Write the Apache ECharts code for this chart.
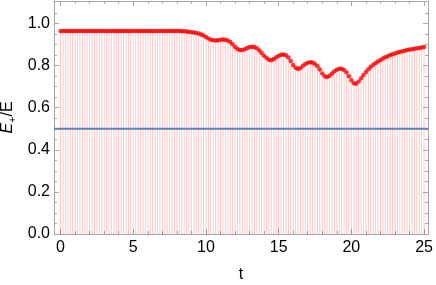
<!DOCTYPE html>
<html>
<head>
<meta charset="utf-8">
<script src="https://cdn.jsdelivr.net/npm/echarts@6/dist/echarts.min.js"></script>
<style>
html,body{margin:0;padding:0;background:#fff;}
#c{width:436px;height:285px;}
</style>
</head>
<body>
<div id="c"></div>
<script>
// ---- data ----
var tValues = [
0,0.17,0.33,0.5,0.67,0.83,1,1.17,1.33,1.5,1.67,1.83,2,2.17,2.33,2.5,2.67,2.83,
3,3.17,3.33,3.5,3.67,3.83,4,4.17,4.33,4.5,4.67,4.83,5,5.17,5.33,5.5,5.67,5.83,
6,6.17,6.33,6.5,6.67,6.83,7,7.17,7.33,7.5,7.67,7.83,8,8.17,8.33,8.5,8.67,8.83,
9,9.17,9.33,9.5,9.67,9.83,10,10.17,10.33,10.5,10.67,10.83,11,11.17,11.33,11.5,11.67,11.83,
12,12.17,12.33,12.5,12.67,12.83,13,13.17,13.33,13.5,13.67,13.83,14,14.17,14.33,14.5,14.67,14.83,
15,15.17,15.33,15.5,15.67,15.83,16,16.17,16.33,16.5,16.67,16.83,17,17.17,17.33,17.5,17.67,17.83,
18,18.17,18.33,18.5,18.67,18.83,19,19.17,19.33,19.5,19.67,19.83,20,20.17,20.33,20.5,20.67,20.83,
21,21.17,21.33,21.5,21.67,21.83,22,22.17,22.33,22.5,22.67,22.83,23,23.17,23.33,23.5,23.67,23.83,
24,24.17,24.33,24.5,24.67,24.83,25
];
var ratioValues = [
0.964,0.964,0.964,0.964,0.964,0.964,0.964,0.964,0.964,0.964,0.964,0.964,0.964,0.964,0.964,0.964,0.964,0.964,
0.964,0.964,0.964,0.964,0.964,0.964,0.964,0.964,0.964,0.964,0.964,0.964,0.964,0.964,0.964,0.964,0.964,0.964,
0.964,0.964,0.964,0.964,0.964,0.964,0.964,0.964,0.964,0.964,0.964,0.964,0.964,0.964,0.963,0.963,0.962,0.961,
0.959,0.957,0.955,0.952,0.948,0.943,0.936,0.929,0.923,0.920,0.919,0.921,0.923,0.924,0.923,0.919,0.912,0.902,
0.889,0.879,0.874,0.874,0.878,0.884,0.888,0.890,0.889,0.883,0.872,0.860,0.847,0.836,0.828,0.826,0.832,0.840,
0.847,0.852,0.853,0.849,0.838,0.822,0.803,0.790,0.784,0.789,0.799,0.808,0.814,0.816,0.815,0.808,0.797,0.781,
0.763,0.750,0.746,0.752,0.763,0.773,0.780,0.785,0.785,0.779,0.767,0.750,0.730,0.716,0.714,0.724,0.740,0.755,
0.770,0.783,0.795,0.804,0.812,0.820,0.827,0.834,0.840,0.845,0.850,0.854,0.858,0.862,0.865,0.868,0.871,0.874,
0.876,0.878,0.880,0.882,0.884,0.886,0.888
];
var referenceLevel = 0.5;
var xMajorTicks = [0,5,10,15,20,25];
var xMinorTicks = [1,2,3,4,6,7,8,9,11,12,13,14,16,17,18,19,21,22,23,24];
var yMajorTicks = [0,0.2,0.4,0.6,0.8,1.0];
var yMinorTicks = [0.05,0.1,0.15,0.25,0.3,0.35,0.45,0.5,0.55,0.65,0.7,0.75,0.85,0.9,0.95,1.05];
var xRange = [-0.45, 25.27];
var yRange = [0, 1.107];

// ---- chart ----
var frameColor = '#a6a6a6';
var font = 'Liberation Sans, Arial, sans-serif';
var points = tValues.map(function(t,i){return [t, ratioValues[i]];});
var refLine = [[xRange[0], referenceLevel],[xRange[1], referenceLevel]];

function xAx(pos, ticks, len, showLine, showLabel){
  return {
    type:'value', position:pos, offset:0, min:xRange[0], max:xRange[1],
    axisLine:{show:showLine, onZero:false, lineStyle:{color:frameColor,width:1}},
    axisTick:{show:true, inside:true, length:len, customValues:ticks, lineStyle:{color:frameColor,width:1}},
    axisLabel:{show:showLabel, customValues:ticks, color:'#000', fontSize:16, fontFamily:font, margin:6},
    splitLine:{show:false}
  };
}
function yAx(pos, ticks, len, showLine, showLabel){
  return {
    type:'value', position:pos, offset:0, min:yRange[0], max:yRange[1],
    axisLine:{show:showLine, onZero:false, lineStyle:{color:frameColor,width:1}},
    axisTick:{show:true, inside:true, length:len, customValues:ticks, lineStyle:{color:frameColor,width:1}},
    axisLabel:{show:showLabel, customValues:ticks, color:'#000', fontSize:16, fontFamily:font, margin:4,
      formatter:function(v){return v.toFixed(1);}},
    splitLine:{show:false}
  };
}

var xBottom = xAx('bottom', xMajorTicks, 5, true, true);
xBottom.name = 't';
xBottom.nameLocation = 'middle';
xBottom.nameGap = 33;
xBottom.nameTextStyle = {color:'#000', fontSize:16, fontFamily:font};

var yLeft = yAx('left', yMajorTicks, 5, true, true);
yLeft.name = '{i|E}{s|+}{n|/E}';
yLeft.nameLocation = 'middle';
yLeft.nameRotate = 90;
yLeft.nameGap = 36;
yLeft.nameMoveOverlap = false;
yLeft.nameTextStyle = {
  color:'#000', fontSize:16, fontFamily:font,
  rich:{
    i:{fontStyle:'italic', fontSize:16, fontFamily:font, color:'#000', lineHeight:20, verticalAlign:'middle'},
    s:{fontSize:11, fontFamily:font, color:'#000', lineHeight:20, verticalAlign:'bottom', padding:[8,0,0,0]},
    n:{fontSize:16, fontFamily:font, color:'#000', lineHeight:20, verticalAlign:'middle'}
  }
};

var option = {
  animation:false,
  backgroundColor:'#fff',
  grid:{left:54, right:8, top:1, bottom:51, containLabel:false, outerBoundsMode:'none'},
  xAxis:[
    xBottom,
    xAx('bottom', xMinorTicks, 3, false, false),
    xAx('top', xMajorTicks, 5, true, false),
    xAx('top', xMinorTicks, 3, false, false)
  ],
  yAxis:[
    yLeft,
    yAx('left', yMinorTicks, 3, false, false),
    yAx('right', yMajorTicks, 5, true, false),
    yAx('right', yMinorTicks, 3, false, false)
  ],
  series:[
    {type:'bar', xAxisIndex:0, yAxisIndex:0, data:points, barWidth:1,
     itemStyle:{color:'rgba(255,0,0,0.22)'}, silent:true},
    {type:'line', xAxisIndex:0, yAxisIndex:0, data:refLine, symbol:'none',
     lineStyle:{color:'#5e81b5', width:2}, silent:true},
    {type:'scatter', xAxisIndex:0, yAxisIndex:0, data:points, symbolSize:4.5,
     itemStyle:{color:'#ff0000'}, silent:true}
  ]
};
var chart = echarts.init(document.getElementById('c'), null, {renderer:'canvas'});
chart.setOption(option);
</script>
</body>
</html>
